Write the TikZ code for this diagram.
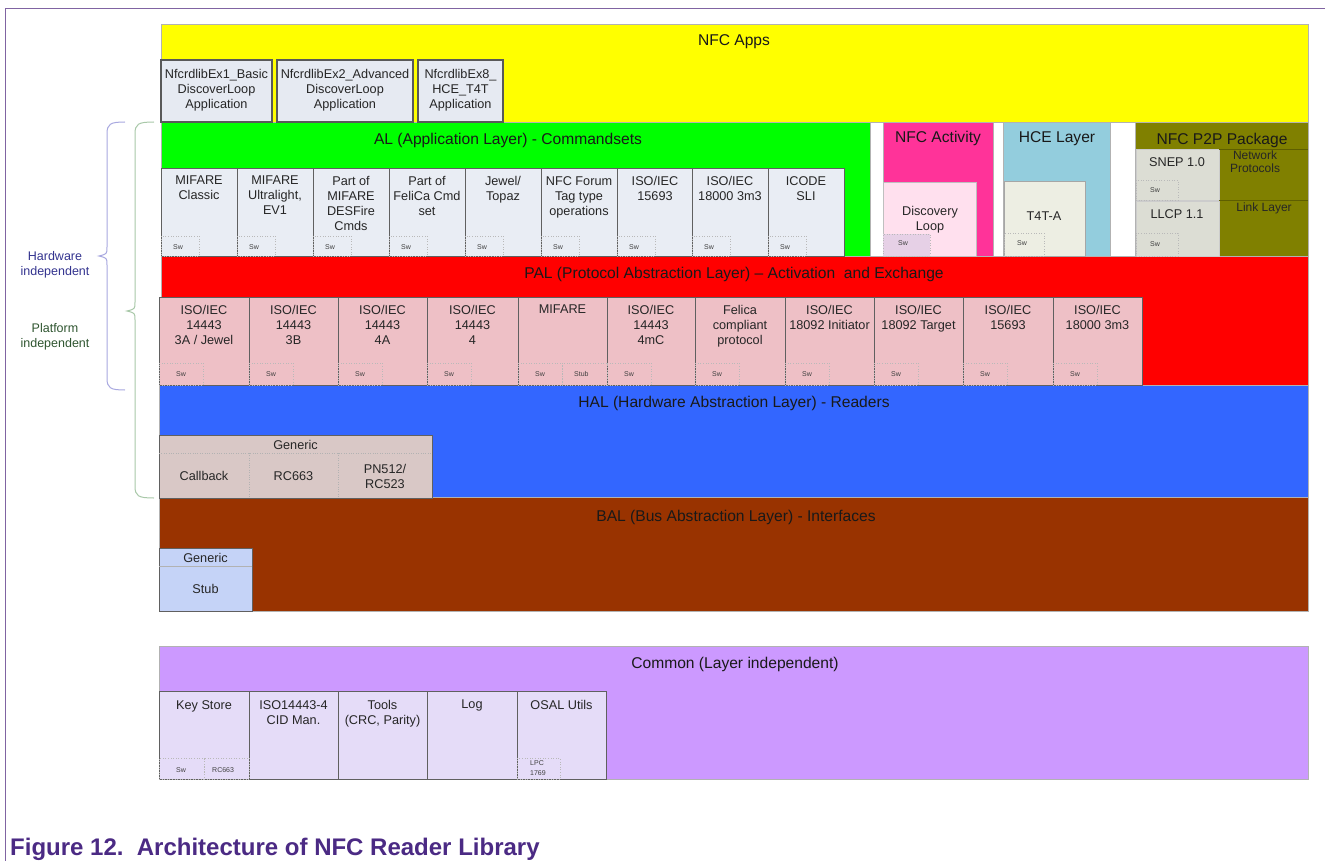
\documentclass[tikz,border=0pt]{standalone}
\usepackage{fontspec}
\setmainfont{Liberation Sans}
\definecolor{cYel}{HTML}{FFFF00}
\definecolor{cGrn}{HTML}{00FF00}
\definecolor{cPink}{HTML}{FF3399}
\definecolor{cHce}{HTML}{93CDDD}
\definecolor{cOlive}{HTML}{808000}
\definecolor{cOliveLine}{HTML}{5E5E00}
\definecolor{cRed}{HTML}{FF0000}
\definecolor{cBlue}{HTML}{3366FF}
\definecolor{cBrown}{HTML}{993300}
\definecolor{cCom}{HTML}{CC99FF}
\definecolor{cAppBox}{HTML}{E6EAF2}
\definecolor{cAlBox}{HTML}{E9EDF4}
\definecolor{cPalBox}{HTML}{EEC0C6}
\definecolor{cHalBox}{HTML}{D9C8C6}
\definecolor{cBalBox}{HTML}{C5D3F7}
\definecolor{cComBox}{HTML}{E5DCF8}
\definecolor{cDisc}{HTML}{FFE0EE}
\definecolor{cDiscSw}{HTML}{E6D0E6}
\definecolor{cT4T}{HTML}{EDEEE3}
\definecolor{cP2PBox}{HTML}{DCDDD4}
\definecolor{cFrame}{HTML}{8064A2}
\definecolor{cCap}{HTML}{4B2A84}
\definecolor{cHw}{HTML}{33338F}
\definecolor{cPf}{HTML}{2F5530}
\definecolor{cBraceB}{HTML}{A8A8E0}
\definecolor{cBraceG}{HTML}{A8C8A8}
\tikzset{
  layer/.style={draw=gray!60, line width=0.6pt},
  appbox/.style={draw=black!65, line width=1.2pt, fill=cAppBox},
  sub/.style={draw=gray!75!black, line width=0.6pt},
  swbox/.style={draw=gray!55, dotted, line width=0.6pt},
  txt/.style={font=\fontsize{12.7}{15}\selectfont, align=center, inner sep=0pt, text=black!85},
  ttl/.style={font=\fontsize{15.6}{18}\selectfont, inner sep=0pt, text=black!90},
  swt/.style={font=\fontsize{7}{8}\selectfont, inner sep=0pt, text=black!75, anchor=west, align=left},
  sidet/.style={font=\fontsize{12.5}{15}\selectfont, align=center, inner sep=0pt},
}
\newcommand\bx[6]{\node[#2,anchor=north west,minimum width=#5pt,minimum height=#6pt,inner sep=0pt,outer sep=0pt] (#1) at (#3,#4) {};}
\begin{document}
\begin{tikzpicture}[x=1pt,y=-1pt]
\useasboundingbox (0,0) rectangle (1325,861);
\fill[white] (0,0) rectangle (1325,861);
% frame
\draw[cFrame, line width=1.3pt] (5.5,861) -- (5.5,8.5) -- (1325,8.5);
% ---------- layers ----------
\bx{apps}{layer,fill=cYel}{161}{24}{1147}{98}
\bx{al}{layer,fill=cGrn}{161}{122}{709}{134}
\bx{act}{layer,fill=cPink}{883}{122}{110}{134}
\bx{hce}{layer,fill=cHce}{1003}{122}{107}{134}
\bx{p2p}{layer,fill=cOlive}{1135}{122}{173}{134}
\bx{pal}{layer,fill=cRed}{161}{256}{1147}{129}
\bx{hal}{layer,fill=cBlue}{159}{385}{1149}{112}
\bx{bal}{layer,fill=cBrown}{159}{497}{1149}{114}
\bx{com}{layer,fill=cCom}{159}{646}{1149}{133}
\node[ttl] (appsT) at (734,42) {NFC Apps};
\node[ttl] (alT) at (508,140) {AL (Application Layer) - Commandsets};
\node[ttl] (actT) at (938,138) {NFC Activity};
\node[ttl] (hceT) at (1057,139) {HCE Layer};
\node[ttl] (p2pT) at (1222,140) {NFC P2P Package};
\node[ttl] (palT) at (734,274) {PAL (Protocol Abstraction Layer) -- Activation\ \ and Exchange};
\node[ttl] (halT) at (734,403) {HAL (Hardware Abstraction Layer) - Readers};
\node[ttl] (balT) at (736,517) {BAL (Bus Abstraction Layer) - Interfaces};
\node[ttl] (comT) at (735,664) {Common (Layer independent)};
% ---------- apps ----------
\bx{app1}{appbox}{161}{60}{111}{62}
\bx{app2}{appbox}{277}{60}{136}{62}
\bx{app3}{appbox}{418}{60}{85}{62}
\node[txt,anchor=north] (app1t) at (216.5,69) {NfcrdlibEx1\_Basic\\DiscoverLoop\\Application};
\node[txt,anchor=north] (app2t) at (345,69) {NfcrdlibEx2\_Advanced\\DiscoverLoop\\Application};
\node[txt,anchor=north] (app3t) at (460.5,69) {NfcrdlibEx8\_\\HCE\_T4T\\Application};
% ---------- AL commandsets ----------
\foreach \x/\t [count=\i] in {161/{MIFARE\\Classic},237/{MIFARE\\Ultralight,\\EV1},313/{Part of\\MIFARE\\DESFire\\Cmds},389/{Part of\\FeliCa Cmd\\set},465/{Jewel/\\Topaz},541/{NFC Forum\\Tag type\\operations},617/{ISO/IEC\\15693},692/{ISO/IEC\\18000 3m3},768/{ICODE\\SLI}}{
  \bx{al\i}{sub,fill=cAlBox}{\x}{168}{76}{88}
  \node[txt,anchor=north] (al\i t) at (\x+38,176) {\t};
  \bx{alsw\i}{swbox}{\x}{236}{38}{20}
  \node[swt] (alsw\i t) at (\x+12,247) {Sw};
}
% ---------- NFC activity ----------
\bx{disc}{sub,draw=gray!50,fill=cDisc}{883}{182}{93}{74}
\node[txt,anchor=north] (disct) at (930,206) {Discovery\\Loop};
\bx{discsw}{swbox,fill=cDiscSw}{883}{234}{47}{22}
\node[swt] (discswt) at (898,243) {Sw};
% ---------- HCE ----------
\bx{t4t}{sub,draw=gray!70,fill=cT4T}{1004}{181}{81}{75}
\node[txt,anchor=north] (t4tt) at (1044,212) {T4T-A};
\bx{t4tsw}{swbox}{1004}{233}{40}{23}
\node[swt] (t4tswt) at (1017,243) {Sw};
% ---------- P2P ----------
\bx{snep}{sub,draw=gray!40,fill=cP2PBox}{1136}{149}{83}{51}
\bx{llcp}{sub,draw=gray!40,fill=cP2PBox}{1136}{201}{83}{55}
\draw[cOliveLine, line width=0.8pt] (snep.north east) -- (snep.north east -| p2p.east);
\draw[cOliveLine, line width=0.8pt] (snep.south east) -- (snep.south east -| p2p.east);
\node[txt,anchor=north] (snept) at (1177,157) {SNEP 1.0};
\node[txt,anchor=north] (llcpt) at (1177,209) {LLCP 1.1};
\bx{snepsw}{swbox}{1136}{180}{42}{20}
\node[swt] (snepswt) at (1150,190) {Sw};
\bx{llcpsw}{swbox}{1136}{233}{42}{23}
\node[swt] (llcpswt) at (1150,244) {Sw};
\node[txt,anchor=north,font=\fontsize{12}{13}\selectfont] (netp) at (1255,151) {Network\\Protocols};
\node[txt,anchor=north,font=\fontsize{12}{13}\selectfont] (linkl) at (1264,203) {Link Layer};
% ---------- PAL ----------
\foreach \x/\w/\t [count=\i] in {159/90/{ISO/IEC\\14443\\3A / Jewel},249/89/{ISO/IEC\\14443\\3B},338/89/{ISO/IEC\\14443\\4A},427/91/{ISO/IEC\\14443\\4},518/89/{MIFARE},607/88/{ISO/IEC\\14443\\4mC},695/90/{Felica\\compliant\\protocol},785/89/{ISO/IEC\\18092 Initiator},874/89/{ISO/IEC\\18092 Target},963/90/{ISO/IEC\\15693},1053/89/{ISO/IEC\\18000 3m3}}{
  \bx{pal\i}{sub,fill=cPalBox}{\x}{297}{\w}{88}
  \node[txt,anchor=north] (pal\i t) at (\x+\w/2,305) {\t};
  \bx{palsw\i}{swbox}{\x}{363}{44}{22}
  \node[swt] (palsw\i t) at (\x+17,374) {Sw};
}
\bx{palstub}{swbox}{562}{363}{45}{22}
\node[swt] (palstubt) at (574,374) {Stub};
% ---------- HAL ----------
\bx{halg}{sub,fill=cHalBox}{159}{435}{273}{63}
\draw[gray!60, dotted] (159,453) -- (432,453);
\draw[gray!60, dotted] (249,453) -- (249,498);
\draw[gray!60, dotted] (338,453) -- (338,498);
\node[txt] (halgt) at (295.5,445) {Generic};
\node[txt] (cbt) at (204,476) {Callback};
\node[txt] (rct) at (293.5,476) {RC663};
\node[txt] (pnt) at (385,476) {PN512/\\RC523};
% ---------- BAL ----------
\bx{balg}{sub,fill=cBalBox}{159}{548}{93}{63}
\draw[gray!60] (159,566) -- (252,566);
\node[txt] (balgt) at (205.5,558) {Generic};
\node[txt] (stubt) at (205.5,589) {Stub};
% ---------- Common ----------
\foreach \x/\w/\t [count=\i] in {159/90/{Key Store},249/89/{ISO14443-4\\CID Man.},338/89/{Tools\\(CRC, Parity)},427/90/{Log},517/89/{OSAL Utils}}{
  \bx{cm\i}{sub,fill=cComBox}{\x}{691}{\w}{88}
  \node[txt,anchor=north] (cm\i t) at (\x+\w/2,700) {\t};
}
\bx{ksw}{swbox}{159}{758}{45}{21}
\node[swt] (kswt) at (176,770) {Sw};
\bx{krc}{swbox}{204}{758}{45}{21}
\node[swt] (krct) at (212,770) {RC663};
\bx{lpc}{swbox}{517}{758}{43}{21}
\node[swt,font=\fontsize{7}{10}\selectfont] (lpct) at (530,768) {LPC\\1769};
% ---------- braces ----------
\draw[cBraceB, line width=1pt] (125,122) .. controls (110,122) and (107,124) .. (107,134) -- (107,247) .. controls (107,254) .. (99,256) .. controls (107,258) .. (107,265) -- (107,378) .. controls (107,388) and (110,390) .. (125,390);
\draw[cBraceG, line width=1pt] (154,122) .. controls (138,122) and (135,124) .. (135,134) -- (135,302) .. controls (135,309) .. (127,311) .. controls (135,313) .. (135,320) -- (135,486) .. controls (135,496) and (138,498) .. (154,498);
\node[sidet, text=cHw] (hw) at (55,265) {Hardware\\independent};
\node[sidet, text=cPf] (pf) at (55,337) {Platform\\independent};
% ---------- caption ----------
\node[anchor=west, inner sep=0pt, text=cCap, font=\fontsize{24}{27}\selectfont\bfseries] (cap) at (10,849) {Figure 12.\ \ Architecture of NFC Reader Library};
\end{tikzpicture}
\end{document}
